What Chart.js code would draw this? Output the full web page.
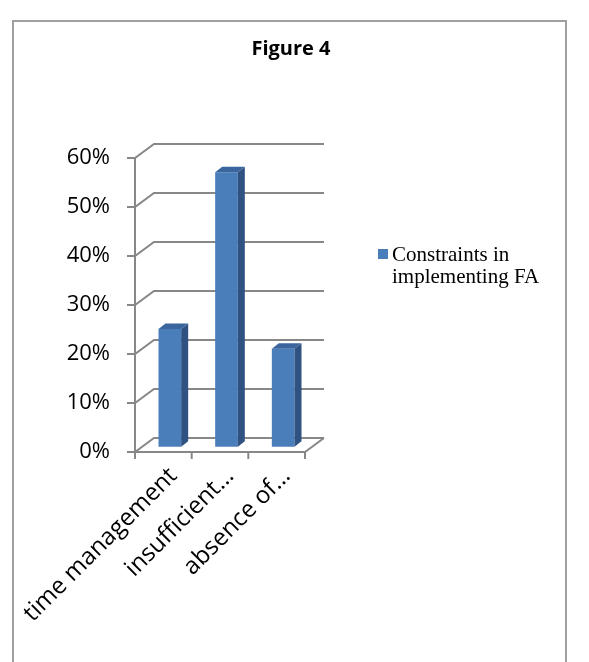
<!DOCTYPE html>
<html>
<head>
<meta charset="utf-8">
<script src="https://cdn.jsdelivr.net/npm/chart.js"></script>
<style>
  html, body { margin: 0; padding: 0; background: #fff; }
  #frame { position: absolute; left: 12px; top: 20px; width: 555px; height: 700px;
           border: 2px solid #a0a0a0; border-bottom: none; box-sizing: border-box; }
  canvas { position: absolute; left: 0; top: 0; }
</style>
</head>
<body>
<div id="frame"></div>
<canvas id="fig4" width="589" height="662"></canvas>
<script>
// data
const categories = ['time management', 'insufficient…', 'absence of…'];
const values = [24, 56, 20];
const seriesName = ['Constraints in', 'implementing FA'];
const yTicks = [0, 10, 20, 30, 40, 50, 60];

// 3d look
const depth = { dx: 19, dy: -14 };
const bar3d = { dx: 6.5, dy: -5.3, sx: 7, sy: -5.5 };
const frontColor = '#4a7ebb';
const sideColor = '#2f5282';
const topColor = '#3b659d';
const gridColor = '#878787';

const walls3d = {
  id: 'walls3d',
  beforeDatasetsDraw(chart) {
    const { ctx, chartArea: a, scales: { x, y } } = chart;
    ctx.save();
    ctx.strokeStyle = gridColor;
    ctx.lineWidth = 2;
    ctx.beginPath();
    y.ticks.forEach(t => {
      const py = y.getPixelForValue(t.value);
      ctx.moveTo(a.left - 8, py);
      ctx.lineTo(a.left, py);
      ctx.lineTo(a.left + depth.dx, py + depth.dy);
      ctx.lineTo(a.right + depth.dx, py + depth.dy);
    });
    // front axis
    ctx.moveTo(a.left, a.top);
    ctx.lineTo(a.left, a.bottom);
    // floor front edge and right edge
    ctx.moveTo(a.left, a.bottom);
    ctx.lineTo(a.right, a.bottom);
    ctx.lineTo(a.right + depth.dx, a.bottom + depth.dy);
    // category ticks
    for (let i = 0; i <= categories.length; i++) {
      const px = x.getPixelForValue(i - 0.5);
      ctx.moveTo(px, a.bottom);
      ctx.lineTo(px, a.bottom + 7);
    }
    ctx.stroke();
    ctx.restore();

    // bars sit a little back in the box
    ctx.save();
    ctx.translate(bar3d.dx, bar3d.dy);
  },
  afterDatasetsDraw(chart) {
    const ctx = chart.ctx;
    const meta = chart.getDatasetMeta(0);
    meta.data.forEach(bar => {
      const { x, y, base, width } = bar.getProps(['x', 'y', 'base', 'width'], true);
      const l = x - width / 2, r = x + width / 2;
      ctx.fillStyle = sideColor;
      ctx.beginPath();
      ctx.moveTo(r, y);
      ctx.lineTo(r + bar3d.sx, y + bar3d.sy);
      ctx.lineTo(r + bar3d.sx, base + bar3d.sy);
      ctx.lineTo(r, base);
      ctx.closePath();
      ctx.fill();
      ctx.fillStyle = topColor;
      ctx.beginPath();
      ctx.moveTo(l, y);
      ctx.lineTo(l + bar3d.sx, y + bar3d.sy);
      ctx.lineTo(r + bar3d.sx, y + bar3d.sy);
      ctx.lineTo(r, y);
      ctx.closePath();
      ctx.fill();
    });
    ctx.restore();
  },
  afterDraw(chart) {
    const ctx = chart.ctx;
    ctx.save();
    // title
    ctx.fillStyle = '#000';
    ctx.font = 'bold 20px "Open Sans"';
    ctx.textAlign = 'center';
    ctx.textBaseline = 'alphabetic';
    ctx.fillText('Figure 4', 291, 55);
    // legend
    ctx.fillStyle = chart.data.datasets[0].backgroundColor;
    ctx.fillRect(378, 249, 10, 10);
    ctx.fillStyle = '#000';
    ctx.font = '21px "Liberation Serif"';
    ctx.textAlign = 'left';
    chart.data.datasets[0].label.forEach((line, i) => {
      ctx.fillText(line, 392, 261 + i * 22);
    });
    ctx.restore();
  }
};

Chart.defaults.font.family = '"Open Sans"';
Chart.defaults.color = '#000';

new Chart(document.getElementById('fig4'), {
  type: 'bar',
  data: {
    labels: categories,
    datasets: [{
      label: seriesName,
      data: values,
      backgroundColor: frontColor,
      barPercentage: 0.4,
      categoryPercentage: 1,
      clip: false
    }]
  },
  options: {
    responsive: false,
    animation: false,
    devicePixelRatio: 1,
    layout: { padding: { top: 158, right: 284, bottom: 0, left: 0 } },
    plugins: { legend: { display: false }, title: { display: false }, tooltip: { enabled: false } },
    scales: {
      x: {
        grid: { display: false, drawTicks: false },
        border: { display: false },
        ticks: { minRotation: 45, maxRotation: 45, autoSkip: false, padding: 10, labelOffset: 10, font: { size: 24 } },
        afterFit: s => { s.height = 210; s.paddingLeft = 0; s.paddingRight = 0; }
      },
      y: {
        min: 0,
        max: 60,
        grid: { display: false, drawTicks: false },
        border: { display: false },
        afterBuildTicks: s => { s.ticks = yTicks.map(v => ({ value: v })); },
        ticks: { padding: 25, font: { size: 22 }, callback: v => v + '%' },
        afterFit: s => { s.width = 135; }
      }
    }
  },
  plugins: [walls3d]
});
</script>
</body>
</html>
